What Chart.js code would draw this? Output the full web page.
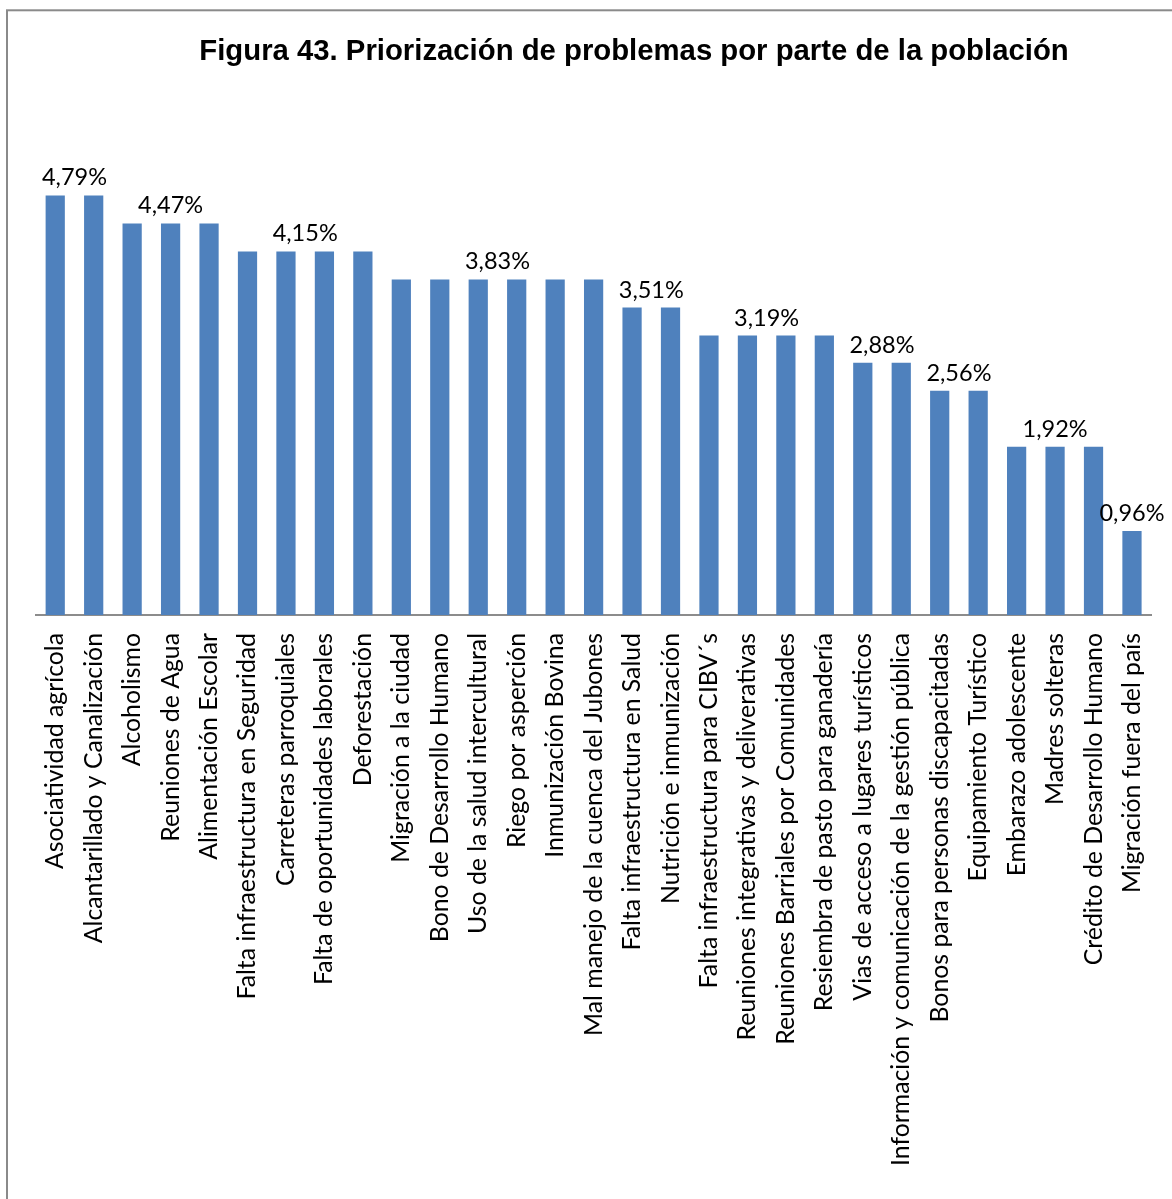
<!DOCTYPE html>
<html>
<head>
<meta charset="utf-8">
<script src="https://cdn.jsdelivr.net/npm/chart.js@4.4.1/dist/chart.umd.min.js"></script>
<style>
    html, body { margin: 0; padding: 0; background: #fff; }
    #wrap { width: 1172px; height: 1199px; position: relative; }
</style>
</head>
<body>
<div id="wrap"><canvas id="chart"></canvas></div>
<script>
// Figura 43 – priorización de problemas (barras verticales, etiquetas por grupo)
const TITLE = 'Figura 43. Priorización de problemas por parte de la población';

const categories = [
    'Asociatividad agrícola',
    'Alcantarillado y Canalización',
    'Alcoholismo',
    'Reuniones de Agua',
    'Alimentación Escolar',
    'Falta infraestructura en Seguridad',
    'Carreteras parroquiales',
    'Falta de oportunidades laborales',
    'Deforestación',
    'Migración a la ciudad',
    'Bono de Desarrollo Humano',
    'Uso de la salud intercultural',
    'Riego por asperción',
    'Inmunización Bovina',
    'Mal manejo de la cuenca del Jubones',
    'Falta infraestructura en Salud',
    'Nutrición e inmunización',
    'Falta infraestructura para CIBV´s',
    'Reuniones integrativas y deliverativas',
    'Reuniones Barriales por Comunidades',
    'Resiembra de pasto para ganadería',
    'Vias de acceso a lugares turísticos',
    'Información y comunicación de la gestión pública',
    'Bonos para personas discapacitadas',
    'Equipamiento Turístico',
    'Embarazo adolescente',
    'Madres solteras',
    'Crédito de Desarrollo Humano',
    'Migración fuera del país',
];

const percentages = [
    4.79, 4.79,
    4.47, 4.47, 4.47,
    4.15, 4.15, 4.15, 4.15,
    3.83, 3.83, 3.83, 3.83, 3.83, 3.83,
    3.51, 3.51,
    3.19, 3.19, 3.19, 3.19,
    2.88, 2.88,
    2.56, 2.56,
    1.92, 1.92, 1.92,
    0.96,
];

const BAR_BLUE = '#4F81BD';
const AXIS_GREY = '#8c8c8c';
const LABEL_FONT = 'Lato, "Open Sans", sans-serif';

// marco gris (solo se ven los bordes izquierdo y superior)
const framePlugin = {
    id: 'frame',
    beforeDraw(chart) {
        const ctx = chart.ctx;
        ctx.save();
        ctx.strokeStyle = '#8a8a8a';
        ctx.lineWidth = 2;
        ctx.strokeRect(7, 10.3, 3000, 3000);
        ctx.restore();
    },
};

const titlePlugin = {
    id: 'figTitle',
    afterDraw(chart) {
        const ctx = chart.ctx;
        ctx.save();
        ctx.font = 'bold 29.3px "Liberation Sans", Arial, sans-serif';
        ctx.fillStyle = '#000';
        ctx.textAlign = 'center';
        ctx.textBaseline = 'alphabetic';
        ctx.fillText(TITLE, 634, 60);
        ctx.restore();
    },
};

// una etiqueta por cada grupo de barras con el mismo valor, centrada en el grupo
const groupLabelPlugin = {
    id: 'groupLabels',
    afterDatasetsDraw(chart) {
        const meta = chart.getDatasetMeta(0);
        const yScale = chart.scales.y;
        const values = chart.data.datasets[0].data;
        const ctx = chart.ctx;
        ctx.save();
        ctx.font = '23.5px ' + LABEL_FONT;
        ctx.fillStyle = '#000';
        ctx.textAlign = 'center';
        ctx.textBaseline = 'alphabetic';
        let start = 0;
        for (let i = 1; i <= values.length; i++) {
            if (i < values.length && values[i] === values[start]) continue;
            let sumX = 0;
            for (let j = start; j < i; j++) sumX += meta.data[j].x;
            const x = sumX / (i - start);
            const y = yScale.getPixelForValue(values[start]) - 10;
            const text = values[start].toFixed(2).replace('.', ',') + '%';
            ctx.fillText(text, x, y);
            start = i;
        }
        ctx.restore();
    },
};

new Chart(document.getElementById('chart'), {
    type: 'bar',
    data: {
        labels: categories,
        datasets: [{
            data: percentages,
            backgroundColor: BAR_BLUE,
            borderWidth: 0,
            barPercentage: 0.5,
            categoryPercentage: 1,
        }],
    },
    options: {
        responsive: true,
        maintainAspectRatio: false,
        animation: false,
        layout: { padding: { left: 36, right: 15, top: 177, bottom: 0 } },
        plugins: { legend: { display: false }, tooltip: { enabled: false } },
        scales: {
            x: {
                grid: { display: false },
                border: { display: true, color: AXIS_GREY, width: 2 },
                ticks: {
                    autoSkip: false,
                    minRotation: 90,
                    maxRotation: 90,
                    padding: 10,
                    color: '#000',
                    font: { family: LABEL_FONT, size: 24.8 },
                },
                afterFit(scale) { scale.height = 1199 - 615; },
            },
            y: { display: false, min: 0, max: 5 },
        },
    },
    plugins: [framePlugin, titlePlugin, groupLabelPlugin],
});
</script>
</body>
</html>
